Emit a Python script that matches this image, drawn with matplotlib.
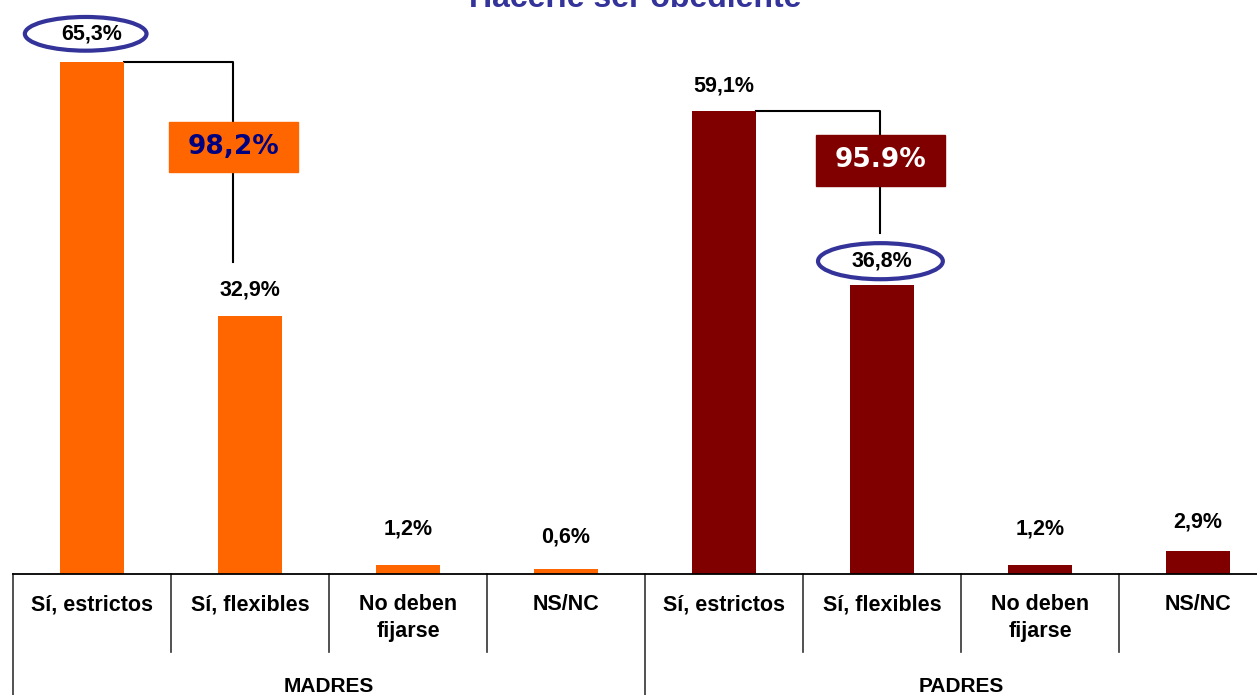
import matplotlib.pyplot as plt
from matplotlib.patches import Rectangle, Ellipse

plt.rcParams['font.family'] = ['Liberation Sans', 'DejaVu Sans']

categories = ["Sí, estrictos", "Sí, flexibles", "No deben\nfijarse", "NS/NC"]
groups = ["MADRES", "PADRES"]
madres = [65.3, 32.9, 1.2, 0.6]
padres = [59.1, 36.8, 1.2, 2.9]
labels_madres = ["65,3%", "32,9%", "1,2%", "0,6%"]
labels_padres = ["59,1%", "36,8%", "1,2%", "2,9%"]
totals = ["98,2%", "95.9%"]
title = "Hacerle ser obediente"

orange = "#FF6600"
darkred = "#800000"
navy = "#333399"

fig = plt.figure(figsize=(12.57, 6.95), dpi=100)
W, H = 1257, 695
ax = fig.add_axes([13 / W, 1 - 574 / H, (W - 13) / W, 574 / H])

x_m = list(range(4))
x_p = [i + 4 for i in range(4)]
ax.bar(x_m, madres, width=0.4, color=orange, zorder=2)
ax.bar(x_p, padres, width=0.4, color=darkred, zorder=2)

ax.set_xlim(-0.5, -0.5 + (W - 13) / 158)
ax.set_ylim(0, 574 / 7.84)
ax.set_xticks([])
ax.set_yticks([])
for s in ["top", "left", "right"]:
    ax.spines[s].set_visible(False)
ax.spines["bottom"].set_linewidth(1.3)

# value labels
pads = [3.6, 3.3, 4.6, 4.1, 3.1, 3.1, 4.6, 3.7]
vals = madres + padres
labs = labels_madres + labels_padres
for i, (v, t) in enumerate(zip(vals, labs)):
    ax.text(i, v + pads[i], t, ha="center", va="center", fontsize=15.5,
            fontweight="bold", color="black", zorder=4)

# ellipses around highlighted values
ax.add_patch(Ellipse((-0.04, madres[0] + pads[0]), 0.77, 4.3, fill=False,
                     edgecolor=navy, lw=3, clip_on=False, zorder=3))
ax.add_patch(Ellipse((4.99, padres[1] + pads[5]), 0.79, 4.6, fill=False,
                     edgecolor=navy, lw=3, clip_on=False, zorder=3))

# connector lines + totals boxes
# madres
bx = 0.895
ax.plot([0.2, bx, bx], [madres[0], madres[0], 57.6], color="black", lw=1.5, zorder=1)
ax.plot([bx, bx], [51.3, 39.8], color="black", lw=1.5, zorder=1)
ax.add_patch(Rectangle((bx - 0.41, 51.3), 0.82, 6.35, color=orange, zorder=3))
ax.text(bx, 54.5, totals[0], ha="center", va="center", fontsize=19,
        fontweight="bold", color="#000080", family="DejaVu Sans", zorder=4)
# padres
bx = 4.99
ax.plot([4.2, bx, bx], [padres[0], padres[0], 56.0], color="black", lw=1.5, zorder=1)
ax.plot([bx, bx], [49.5, 43.5], color="black", lw=1.5, zorder=1)
ax.add_patch(Rectangle((bx - 0.41, 49.5), 0.82, 6.5, color=darkred, zorder=3))
ax.text(bx, 52.75, totals[1], ha="center", va="center", fontsize=19,
        fontweight="bold", color="white", family="DejaVu Sans", zorder=4)

# category axis
for i in range(9):
    x = i - 0.5
    low = -15.5 if i % 4 == 0 else -9.95
    ax.plot([x, x], [0, low], color="#333333", lw=1.2, clip_on=False)
for i in range(8):
    c = categories[i % 4]
    ax.text(i, -2.6, c, ha="center", va="top", fontsize=15.5,
            fontweight="bold", linespacing=1.35, clip_on=False)
for g, name in enumerate(groups):
    ax.text(g * 4 + 1.5, -14.3, name, ha="center", va="center",
            fontsize=15, fontweight="bold")

fig.text(635 / W, 1 - 7 / H, title, ha="center", va="baseline",
         fontsize=23, fontweight="bold", color=navy)

fig.savefig("out.png", dpi=100)
